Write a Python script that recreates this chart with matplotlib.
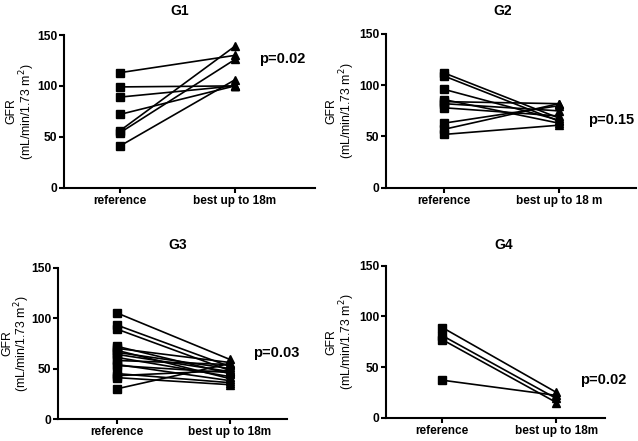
import matplotlib
matplotlib.use("Agg")
import matplotlib.pyplot as plt

plt.rcParams['font.family'] = ['Liberation Sans', 'DejaVu Sans']

categories = ["reference", "best up to 18m"]
categories_g2 = ["reference", "best up to 18 m"]
titles = ["G1", "G2", "G3", "G4"]
p_values = ["p=0.02", "p=0.15", "p=0.03", "p=0.02"]
yticks = [0, 50, 100, 150]

g1_ref = [113, 99, 89, 72, 56, 54, 41]
g1_best = [130, 100, 100, 100, 139, 126, 106]

g2_ref = [112, 109, 96, 86, 84, 82, 78, 63, 57, 52]
g2_best = [68, 65, 66, 63, 82, 75, 70, 80, 82, 61]

g3_ref = [105, 93, 89, 72, 70, 68, 66, 64, 61, 58, 54, 53, 45, 43, 41, 30]
g3_best = [59, 52, 48, 45, 56, 40, 50, 47, 42, 54, 38, 46, 36, 48, 34, 55]

g4_ref = [89, 81, 77, 37]
g4_best = [25, 19, 15, 22]

W, H = 638, 441
fig = plt.figure(figsize=(W / 100, H / 100), dpi=100)

# layout: (left, right, top, bottom) in pixels, xlim, p-text position
panels = [
    dict(px=(64, 315, 35, 187.7), xlim=(-0.487, 1.696), ref=g1_ref, best=g1_best,
         cats=categories, ptxt=(1.41, 126)),
    dict(px=(386, 636, 34, 187.7), xlim=(-0.506, 1.673), ref=g2_ref, best=g2_best,
         cats=categories_g2, ptxt=(1.455, 66)),
    dict(px=(58, 287, 267.7, 419), xlim=(-0.526, 1.506), ref=g3_ref, best=g3_best,
         cats=categories, ptxt=(1.415, 65)),
    dict(px=(386, 605, 265.7, 417.7), xlim=(-0.494, 1.427), ref=g4_ref, best=g4_best,
         cats=categories, ptxt=(1.408, 37)),
]
title_pos = [(180, 11), (503, 11), (178, 245), (504, 245)]
ylabel_x = [37, 357, 32.5, 357]

for i, p in enumerate(panels):
    l, r, t, b = p["px"]
    ax = fig.add_axes([l / W, (H - b) / H, (r - l) / W, (b - t) / H])
    for a, c in zip(p["ref"], p["best"]):
        ax.plot([0, 1], [a, c], color="black", lw=1.2, zorder=2, clip_on=False)
    ax.plot([0] * len(p["ref"]), p["ref"], linestyle="none", marker="s", ms=5.5,
            color="black", zorder=3, clip_on=False)
    ax.plot([1] * len(p["best"]), p["best"], linestyle="none", marker="^", ms=5.5,
            color="black", zorder=3, clip_on=False)
    ax.set_xlim(*p["xlim"])
    ax.set_ylim(0, 150)
    ax.set_yticks(yticks)
    ax.set_yticklabels([str(v) for v in yticks], fontsize=8.7, fontweight="bold")
    ax.set_xticks([0, 1])
    ax.set_xticklabels(p["cats"], fontsize=8.5, fontweight="bold")
    for s in ["top", "right"]:
        ax.spines[s].set_visible(False)
    for s in ["left", "bottom"]:
        ax.spines[s].set_linewidth(1.5)
    ax.tick_params(axis="both", direction="out", length=3.5, width=1.5, pad=1.5)
    ax.set_ylabel("GFR\n(mL/min/1.73 m$^2$)", fontsize=8.8, fontweight="normal",
                  linespacing=1.0)
    ax.yaxis.set_label_coords((ylabel_x[i] - l) / (r - l), 0.5)
    ax.text(p["ptxt"][0], p["ptxt"][1], p_values[i], fontsize=10.5, fontweight="bold",
            ha="center", va="center", clip_on=False)
    tx, ty = title_pos[i]
    fig.text(tx / W, 1 - ty / H, titles[i], fontsize=10, fontweight="bold",
             ha="center", va="center")

fig.savefig("out.png", dpi=100)
